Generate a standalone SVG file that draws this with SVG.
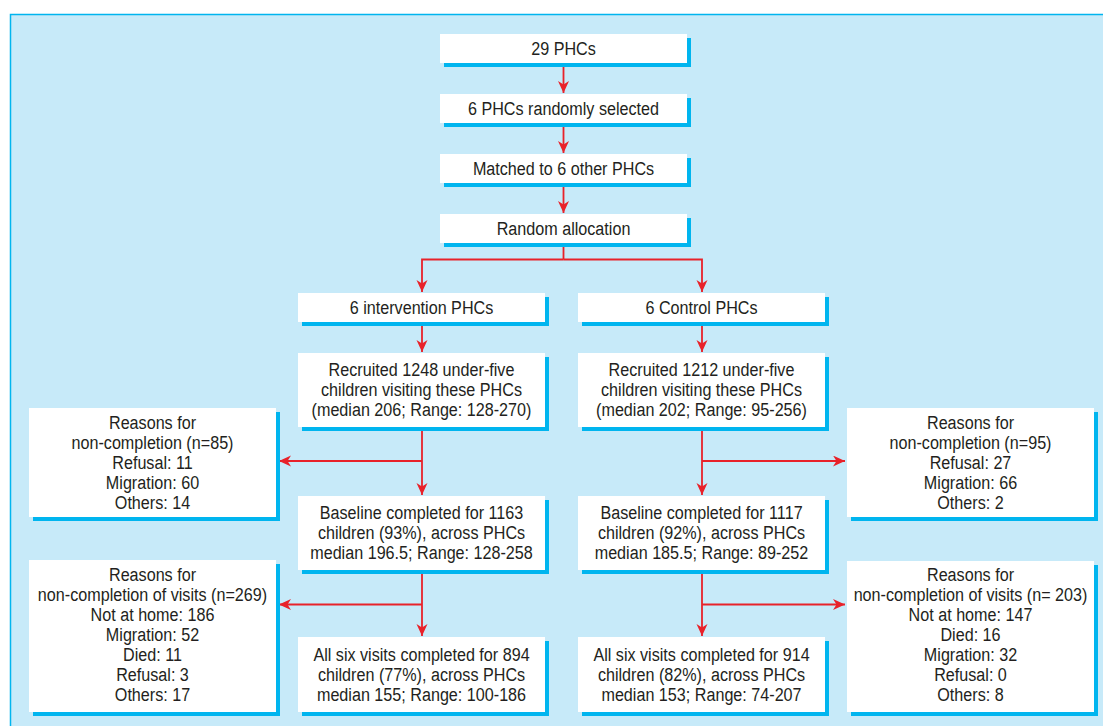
<svg xmlns="http://www.w3.org/2000/svg" width="1103" height="726" viewBox="0 0 1103 726">
<style>
.bg{fill:#c7eaf9;stroke:#00b5ef;stroke-width:1.5}
.sh{fill:#00b5ef}
.bx{fill:#ffffff}
text{font-family:"Liberation Sans",Arial,sans-serif;font-size:19px;fill:#231f20;text-anchor:middle}
.c line,.c polyline{stroke:#e8222a;stroke-width:1.8;fill:none}
</style>
<defs>
<marker id="ah" markerWidth="14" markerHeight="12" refX="12" refY="5.5" orient="auto" markerUnits="userSpaceOnUse">
<path d="M0,0 L12,5.5 L0,11 L3.5,5.5 Z" fill="#e8222a"/>
</marker>
</defs>
<rect class="bg" x="10.5" y="14.5" width="1100" height="720"/>

<g class="c" id="connectors">
<line x1="563.5" y1="63" x2="563.5" y2="93" marker-end="url(#ah)"/>
<line x1="563.5" y1="123" x2="563.5" y2="153" marker-end="url(#ah)"/>
<line x1="563.5" y1="183" x2="563.5" y2="213" marker-end="url(#ah)"/>
<polyline points="563.5,243 563.5,259.5"/>
<polyline points="563.5,259.5 422,259.5 422,292" marker-end="url(#ah)"/>
<polyline points="563.5,259.5 702,259.5 702,292" marker-end="url(#ah)"/>
<line x1="422" y1="322" x2="422" y2="352" marker-end="url(#ah)"/>
<line x1="702" y1="322" x2="702" y2="352" marker-end="url(#ah)"/>
<line x1="422" y1="427" x2="422" y2="495" marker-end="url(#ah)"/>
<line x1="422" y1="461" x2="279" y2="461" marker-end="url(#ah)"/>
<line x1="702" y1="427" x2="702" y2="495" marker-end="url(#ah)"/>
<line x1="702" y1="461" x2="845" y2="461" marker-end="url(#ah)"/>
<line x1="422" y1="570" x2="422" y2="636" marker-end="url(#ah)"/>
<line x1="422" y1="604.5" x2="279" y2="604.5" marker-end="url(#ah)"/>
<line x1="702" y1="570" x2="702" y2="636" marker-end="url(#ah)"/>
<line x1="702" y1="604.5" x2="845" y2="604.5" marker-end="url(#ah)"/>
</g>

<g id="n1"><rect class="sh" x="444" y="38" width="247" height="29"/><rect class="bx" x="440" y="34" width="247" height="29"/><g transform="translate(563.5 0) scale(0.85 1)"><text x="0" y="55">29 PHCs</text></g></g>
<g id="n2"><rect class="sh" x="444" y="98" width="247" height="29"/><rect class="bx" x="440" y="94" width="247" height="29"/><g transform="translate(563.5 0) scale(0.85 1)"><text x="0" y="115">6 PHCs randomly selected</text></g></g>
<g id="n3"><rect class="sh" x="444" y="158" width="247" height="29"/><rect class="bx" x="440" y="154" width="247" height="29"/><g transform="translate(563.5 0) scale(0.85 1)"><text x="0" y="175">Matched to 6 other PHCs</text></g></g>
<g id="n4"><rect class="sh" x="444" y="218" width="247" height="29"/><rect class="bx" x="440" y="214" width="247" height="29"/><g transform="translate(563.5 0) scale(0.85 1)"><text x="0" y="235">Random allocation</text></g></g>

<g id="n5"><rect class="sh" x="302" y="297" width="247" height="29"/><rect class="bx" x="298" y="293" width="247" height="29"/><g transform="translate(421.5 0) scale(0.85 1)"><text x="0" y="314">6 intervention PHCs</text></g></g>
<g id="n6"><rect class="sh" x="582" y="297" width="247" height="29"/><rect class="bx" x="578" y="293" width="247" height="29"/><g transform="translate(701.5 0) scale(0.85 1)"><text x="0" y="314">6 Control PHCs</text></g></g>

<g id="n7"><rect class="sh" x="302" y="357" width="247" height="74"/><rect class="bx" x="298" y="353" width="247" height="74"/>
<g transform="translate(421.5 0) scale(0.85 1)"><text x="0" y="376">Recruited 1248 under-five</text><text x="0" y="396">children visiting these PHCs</text><text x="0" y="416">(median 206; Range: 128-270)</text></g></g>
<g id="n8"><rect class="sh" x="582" y="357" width="247" height="74"/><rect class="bx" x="578" y="353" width="247" height="74"/>
<g transform="translate(701.5 0) scale(0.85 1)"><text x="0" y="376">Recruited 1212 under-five</text><text x="0" y="396">children visiting these PHCs</text><text x="0" y="416">(median 202; Range: 95-256)</text></g></g>

<g id="n9"><rect class="sh" x="33" y="412" width="247" height="109"/><rect class="bx" x="29" y="408" width="247" height="109"/>
<g transform="translate(152.5 0) scale(0.85 1)"><text x="0" y="429">Reasons for</text><text x="0" y="449">non-completion (n=85)</text><text x="0" y="469">Refusal: 11</text><text x="0" y="489">Migration: 60</text><text x="0" y="509">Others: 14</text></g></g>
<g id="n10"><rect class="sh" x="851" y="412" width="247" height="109"/><rect class="bx" x="847" y="408" width="247" height="109"/>
<g transform="translate(970.5 0) scale(0.85 1)"><text x="0" y="429">Reasons for</text><text x="0" y="449">non-completion (n=95)</text><text x="0" y="469">Refusal: 27</text><text x="0" y="489">Migration: 66</text><text x="0" y="509">Others: 2</text></g></g>

<g id="n11"><rect class="sh" x="302" y="500" width="247" height="74"/><rect class="bx" x="298" y="496" width="247" height="74"/>
<g transform="translate(421.5 0) scale(0.85 1)"><text x="0" y="519">Baseline completed for 1163</text><text x="0" y="539">children (93%), across PHCs</text><text x="0" y="559">median 196.5; Range: 128-258</text></g></g>
<g id="n12"><rect class="sh" x="582" y="500" width="247" height="74"/><rect class="bx" x="578" y="496" width="247" height="74"/>
<g transform="translate(701.5 0) scale(0.85 1)"><text x="0" y="519">Baseline completed for 1117</text><text x="0" y="539">children (92%), across PHCs</text><text x="0" y="559">median 185.5; Range: 89-252</text></g></g>

<g id="n13"><rect class="sh" x="33" y="564" width="247" height="152"/><rect class="bx" x="29" y="560" width="247" height="152"/>
<g transform="translate(152.5 0) scale(0.85 1)"><text x="0" y="581">Reasons for</text><text x="0" y="601">non-completion of visits (n=269)</text><text x="0" y="621">Not at home: 186</text><text x="0" y="641">Migration: 52</text><text x="0" y="661">Died: 11</text><text x="0" y="681">Refusal: 3</text><text x="0" y="701">Others: 17</text></g></g>
<g id="n14"><rect class="sh" x="851" y="565" width="247" height="151"/><rect class="bx" x="847" y="561" width="247" height="151"/>
<g transform="translate(970.5 0) scale(0.85 1)"><text x="0" y="581">Reasons for</text><text x="0" y="601">non-completion of visits (n= 203)</text><text x="0" y="621">Not at home: 147</text><text x="0" y="641">Died: 16</text><text x="0" y="661">Migration: 32</text><text x="0" y="681">Refusal: 0</text><text x="0" y="701">Others: 8</text></g></g>

<g id="n15"><rect class="sh" x="302" y="641" width="247" height="75"/><rect class="bx" x="298" y="637" width="247" height="75"/>
<g transform="translate(421.5 0) scale(0.85 1)"><text x="0" y="661">All six visits completed for 894</text><text x="0" y="681">children (77%), across PHCs</text><text x="0" y="701">median 155; Range: 100-186</text></g></g>
<g id="n16"><rect class="sh" x="582" y="641" width="247" height="75"/><rect class="bx" x="578" y="637" width="247" height="75"/>
<g transform="translate(701.5 0) scale(0.85 1)"><text x="0" y="661">All six visits completed for 914</text><text x="0" y="681">children (82%), across PHCs</text><text x="0" y="701">median 153; Range: 74-207</text></g></g>
</svg>
